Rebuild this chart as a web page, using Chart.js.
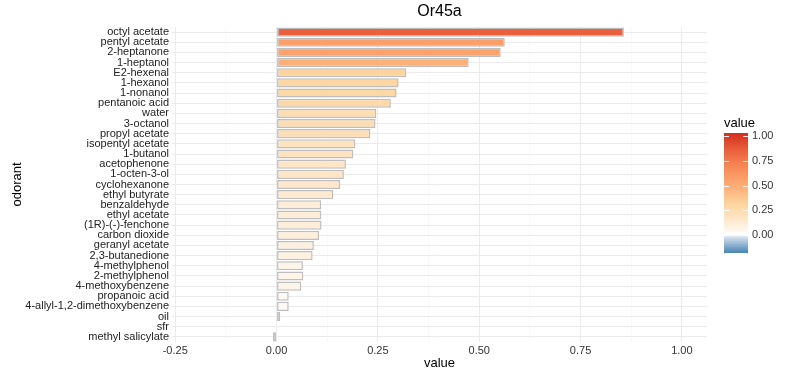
<!DOCTYPE html>
<html>
<head>
<meta charset="utf-8">
<script src="https://cdn.jsdelivr.net/npm/chart.js@4/dist/chart.umd.min.js"></script>
<style>
  html, body { margin: 0; padding: 0; background: #ffffff; }
  #wrap { width: 800px; height: 379px; position: relative; }
</style>
</head>
<body>
<div id="wrap"><canvas id="c" width="800" height="379"></canvas></div>
<script>
// ---- data ----
const chartTitle = "Or45a";
const odorants = [
  "octyl acetate", "pentyl acetate", "2-heptanone", "1-heptanol", "E2-hexenal",
  "1-hexanol", "1-nonanol", "pentanoic acid", "water", "3-octanol",
  "propyl acetate", "isopentyl acetate", "1-butanol", "acetophenone", "1-octen-3-ol",
  "cyclohexanone", "ethyl butyrate", "benzaldehyde", "ethyl acetate", "(1R)-(-)-fenchone",
  "carbon dioxide", "geranyl acetate", "2,3-butanedione", "4-methylphenol", "2-methylphenol",
  "4-methoxybenzene", "propanoic acid", "4-allyl-1,2-dimethoxybenzene", "oil", "sfr",
  "methyl salicylate"
];
const values = [
  0.857, 0.563, 0.553, 0.474, 0.320,
  0.301, 0.296, 0.282, 0.246, 0.244,
  0.231, 0.194, 0.189, 0.171, 0.166,
  0.157, 0.140, 0.110, 0.110, 0.111,
  0.105, 0.092, 0.089, 0.065, 0.066,
  0.061, 0.030, 0.030, 0.009, 0.001,
  -0.009
];
const xTickValues = [-0.25, 0, 0.25, 0.5, 0.75, 1.0];
const xMinorTickValues = [-0.125, 0.125, 0.375, 0.625, 0.875];
const legendTickValues = [0, 0.25, 0.5, 0.75, 1.0];

// colour scale (value -> colour)
const colorStops = [
  [-0.18, "#4682B4"],
  [-0.01, "#DCE6F1"],
  [0.0,   "#FFFFFF"],
  [0.10,  "#FEEFDC"],
  [0.19,  "#FEE3C0"],
  [0.32,  "#FDD49E"],
  [0.47,  "#FDB27A"],
  [0.56,  "#FCA16B"],
  [0.75,  "#F47B4D"],
  [0.857, "#E8603C"],
  [1.03,  "#D42E1E"]
];

function hexToRgb(h) {
  return [parseInt(h.substr(1,2),16), parseInt(h.substr(3,2),16), parseInt(h.substr(5,2),16)];
}
function valueToColor(v) {
  if (v <= colorStops[0][0]) return colorStops[0][1];
  for (let i = 1; i < colorStops.length; i++) {
    if (v <= colorStops[i][0]) {
      const [v0, c0] = colorStops[i-1];
      const [v1, c1] = colorStops[i];
      const t = (v - v0) / (v1 - v0);
      const a = hexToRgb(c0), b = hexToRgb(c1);
      const r = a.map((x, k) => Math.round(x + (b[k] - x) * t));
      return `rgb(${r[0]},${r[1]},${r[2]})`;
    }
  }
  return colorStops[colorStops.length-1][1];
}

const FONT = "'Liberation Sans', Arial, Helvetica, sans-serif";

const overlay = {
  id: 'overlay',
  afterDraw(chart) {
    const ctx = chart.ctx;
    const ca = chart.chartArea;
    ctx.save();
    // title
    ctx.fillStyle = '#000000';
    ctx.font = `16px ${FONT}`;
    ctx.textAlign = 'center';
    ctx.textBaseline = 'middle';
    ctx.fillText(chartTitle, (ca.left + ca.right) / 2, 12);

    // colour bar legend
    const bx = 724, bw = 24, bTop = 133, bBot = 253;
    const vTop = 1.03, vBot = -0.18;
    const yOf = v => bBot - (v - vBot) / (vTop - vBot) * (bBot - bTop);
    const grad = ctx.createLinearGradient(0, bBot, 0, bTop);
    const n = 60;
    for (let i = 0; i <= n; i++) {
      const v = vBot + (vTop - vBot) * i / n;
      grad.addColorStop(i / n, valueToColor(v));
    }
    ctx.fillStyle = grad;
    ctx.fillRect(bx, bTop, bw, bBot - bTop);

    ctx.strokeStyle = 'rgba(255,255,255,0.9)';
    ctx.lineWidth = 1;
    ctx.font = `11px ${FONT}`;
    ctx.textAlign = 'left';
    ctx.textBaseline = 'middle';
    legendTickValues.forEach(v => {
      const y = Math.round(yOf(v)) + 0.5;
      ctx.beginPath();
      ctx.moveTo(bx, y); ctx.lineTo(bx + 5, y);
      ctx.moveTo(bx + bw - 5, y); ctx.lineTo(bx + bw, y);
      ctx.stroke();
      ctx.fillStyle = '#333333';
      ctx.fillText(v.toFixed(2), bx + bw + 4, yOf(v));
    });
    ctx.fillStyle = '#000000';
    ctx.font = `13px ${FONT}`;
    ctx.textBaseline = 'alphabetic';
    ctx.fillText('value', bx, 127);
    ctx.restore();
  }
};

new Chart(document.getElementById('c'), {
  type: 'bar',
  data: {
    labels: odorants,
    datasets: [{
      data: values,
      backgroundColor: ctx => valueToColor(ctx.raw),
      borderColor: '#BEBEBE',
      borderWidth: 1.5,
      borderSkipped: false,
      barPercentage: 0.9,
      categoryPercentage: 1.0
    }]
  },
  options: {
    indexAxis: 'y',
    responsive: false,
    animation: false,
    events: [],
    layout: { padding: { top: 27, right: 93, left: 0, bottom: 0 } },
    plugins: {
      legend: { display: false },
      title: { display: false },
      tooltip: { enabled: false }
    },
    scales: {
      x: {
        type: 'linear',
        min: -0.258,
        max: 1.062,
        afterBuildTicks: s => {
          s.ticks = xTickValues.concat(xMinorTickValues).sort((a, b) => a - b).map(v => ({ value: v }));
        },
        afterFit: s => { s.height = 37; },
        border: { display: false },
        grid: {
          drawTicks: false,
          color: c => (xTickValues.includes(c.tick.value) ? '#EBEBEB' : '#F5F5F5'),
          lineWidth: c => (xTickValues.includes(c.tick.value) ? 1 : 0.6)
        },
        ticks: {
          padding: 2,
          autoSkip: false,
          maxRotation: 0,
          color: '#333333',
          font: { family: FONT, size: 11 },
          callback: v => (xTickValues.includes(v) ? v.toFixed(2) : '')
        },
        title: {
          display: true,
          text: 'value',
          color: '#000000',
          font: { family: FONT, size: 13 },
          padding: { top: 0, bottom: 8 }
        }
      },
      y: {
        type: 'category',
        afterFit: s => { s.width = 172; },
        border: { display: false },
        grid: {
          offset: false,
          drawTicks: false,
          color: '#EBEBEB',
          lineWidth: 1
        },
        ticks: {
          padding: 3,
          autoSkip: false,
          color: '#222222',
          font: { family: FONT, size: 11 }
        },
        title: {
          display: true,
          text: 'odorant',
          color: '#000000',
          font: { family: FONT, size: 13 },
          padding: { top: 10, bottom: 0 }
        }
      }
    }
  },
  plugins: [overlay]
});
</script>
</body>
</html>
